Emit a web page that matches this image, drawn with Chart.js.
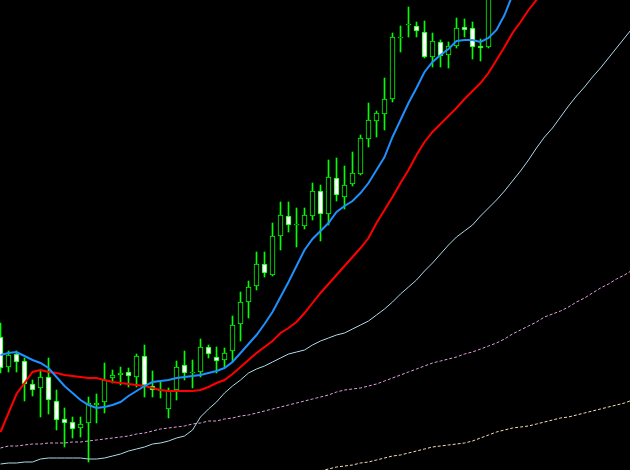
<!DOCTYPE html>
<html>
<head>
<meta charset="utf-8">
<script src="https://cdn.jsdelivr.net/npm/chart.js@4/dist/chart.umd.min.js"></script>
<style>
  html, body { margin: 0; padding: 0; background: #000; }
  #wrap { width: 630px; height: 470px; position: relative; }
</style>
</head>
<body>
<div id="wrap"><canvas id="priceChart"></canvas></div>
<script>
// candles, one per bar index
const opens = [113.3,110.3,111.6,110.9,108.6,108.2,109.3,106.9,105.1,104.8,
  104.2,104.7,106.5,106.8,109.2,109.5,109.8,109.3,111.4,108.4,
  107.9,106.1,108.0,110.5,109.7,109.8,112.3,111.3,111.0,111.9,
  114.6,116.8,118.4,120.6,119.5,123.4,125.4,124.5,124.4,125.4,
  127.9,125.6,129.2,127.3,128.6,129.6,133.1,134.9,135.6,137.1,
  143.2,144.5,144.4,143.8,141.3,142.8,141.5,142.4,144.3,144.2,
  142.4,142.3];
const highs = [114.7,111.9,111.9,111.2,109.0,110.0,111.2,108.0,106.2,105.3,
  105.3,107.3,107.6,110.7,110.0,110.3,110.2,111.6,112.5,109.9,
  108.8,108.2,110.9,111.9,111.0,113.1,112.5,112.3,112.2,115.4,
  117.8,118.9,121.8,121.8,124.7,126.8,126.8,126.2,126.2,128.7,
  128.5,131.0,131.2,130.4,131.8,133.5,136.7,135.9,139.2,143.7,
  144.4,146.3,144.8,144.9,143.7,143.0,142.8,145.2,145.1,144.8,
  143.1,149.6];
const lows = [109.7,109.8,109.8,106.9,107.4,105.3,105.6,104.0,102.3,103.2,
  103.3,100.8,104.7,105.7,108.7,108.5,108.3,108.3,107.3,107.3,
  107.2,105.2,107.0,109.0,108.2,109.3,111.2,109.7,110.3,110.8,
  112.9,115.2,118.0,119.3,119.4,122.0,123.8,122.3,124.1,125.0,
  122.9,124.5,126.9,126.1,128.4,129.5,132.3,133.3,134.0,136.8,
  141.8,143.3,143.3,141.2,140.3,140.3,140.2,142.2,143.3,141.1,
  140.9,142.2];
const closes = [110.2,111.5,110.8,108.6,108.0,109.3,107.0,105.0,104.7,104.1,
  104.6,106.7,106.7,109.0,109.5,109.7,109.4,111.4,108.5,108.0,
  108.0,108.0,110.3,109.7,109.8,112.3,111.6,110.9,111.7,114.5,
  116.8,118.3,120.6,119.7,123.4,125.5,124.5,124.6,125.5,127.9,
  125.6,129.3,127.5,128.5,129.7,133.2,135.0,135.7,137.1,143.3,
  143.3,144.6,143.9,141.3,142.9,141.4,142.4,144.2,144.0,142.3,
  142.2,149.0];

// moving averages (start at bar 0 unless noted)
const maFast = [111.5,111.7,111.8,111.4,111.0,110.7,110.2,109.3,108.4,107.7,
  107.0,106.5,106.2,106.3,106.5,106.8,107.4,107.9,108.4,108.8,
  108.9,109.0,109.2,109.3,109.4,109.5,109.7,109.9,110.2,110.8,
  111.7,112.6,113.5,114.6,115.8,117.3,118.8,120.4,122.0,123.1,
  123.9,124.7,125.8,126.4,126.9,127.7,128.7,130.0,131.3,133.3,
  135.0,136.7,138.2,139.8,140.8,141.5,142.1,142.9,143.0,143.0,
  142.8,143.2,144.0,145.5,147.5,149.3];
const maMid = [103.8,105.7,107.6,108.7,109.8,110.0,109.8,109.7,109.5,109.4,
  109.3,109.2,109.2,109.0,108.8,108.7,108.6,108.5,108.4,108.2,
  108.0,107.9,107.9,107.9,107.9,108.0,108.3,108.7,109.0,109.6,
  110.3,111.0,111.7,112.3,112.9,113.7,114.2,114.8,115.7,116.7,
  117.7,118.6,119.5,120.4,121.3,122.2,123.2,124.7,126.0,127.3,
  128.7,130.0,131.5,132.8,133.8,134.6,135.4,136.2,137.1,137.9,
  138.7,139.7,141.0,142.3,143.7,144.8,146.0,147.0,148.0];
const maSlow = [100.6,100.7,100.7,100.8,100.8,101.1,101.2,101.2,101.2,101.2,
  101.2,101.1,101.1,101.2,101.4,101.6,101.9,102.1,102.3,102.6,
  102.7,102.9,103.2,103.4,104.0,105.3,106.1,106.8,107.7,108.4,
  109.0,109.7,110.1,110.4,110.8,111.2,111.6,111.8,112.0,112.5,
  112.9,113.2,113.5,113.7,114.1,114.5,114.9,115.5,116.1,116.8,
  117.6,118.3,119.0,119.9,120.7,121.6,122.5,123.3,123.9,124.5,
  125.4,126.2,127.0,127.9,128.9,129.9,131.0,132.2,133.3,134.2,
  135.3,136.4,137.4,138.3,139.3,140.2,141.2,142.2,143.2,144.2];
const maLong = [102.2,102.4,102.4,102.5,102.6,102.6,102.7,102.7,102.7,102.8,
  102.8,102.9,103.0,103.1,103.2,103.3,103.4,103.6,103.7,103.9,
  104.1,104.2,104.3,104.4,104.6,104.7,104.9,104.9,105.1,105.2,
  105.4,105.5,105.7,105.9,106.1,106.3,106.5,106.7,106.9,107.1,
  107.3,107.5,107.8,108.0,108.1,108.2,108.4,108.6,108.9,109.2,
  109.5,109.8,110.1,110.4,110.7,110.9,111.1,111.3,111.6,111.8,
  112.1,112.4,112.7,113.1,113.6,114.0,114.4,114.8,115.3,115.6,
  115.9,116.3,116.8,117.2,117.7,118.2,118.6,119.1,119.5,120.0];
const maLongestStart = 40;
const maLongest = [99.9,100.1,100.3,100.4,100.5,100.7,100.8,101.0,101.2,101.4,
  101.5,101.7,101.9,102.1,102.3,102.4,102.5,102.6,102.7,102.9,
  103.2,103.5,103.8,104.0,104.2,104.3,104.4,104.6,104.8,105.0,
  105.2,105.3,105.5,105.7,105.9,106.1,106.3,106.5,106.7,107.0];

const green = '#00ff00';

const toPoints = (arr, start = 0) => arr.map((v, i) => ({ x: i + start, y: v }));

const wickData = highs.map((h, i) => ({ x: i, y: [lows[i], h] }));
const bodyData = opens.map((o, i) => ({ x: i, y: [o, closes[i]] }));
const bodyFill = opens.map((o, i) => closes[i] >= o ? '#000000' : '#ffffff');

function maLine(data, color, width, dash) {
  return {
    type: 'line',
    data: data,
    borderColor: color,
    borderWidth: width,
    borderDash: dash || [],
    pointRadius: 0,
    tension: 0,
    fill: false,
    order: 0
  };
}

const ctx = document.getElementById('priceChart').getContext('2d');
const priceChart = new Chart(ctx, {
  data: {
    datasets: [
      maLine(toPoints(maFast), '#1e90ff', 2),
      maLine(toPoints(maMid), '#ff0000', 2),
      maLine(toPoints(maSlow), '#add8e6', 1),
      maLine(toPoints(maLong), '#dda0dd', 1, [3, 2]),
      maLine(toPoints(maLongest, maLongestStart), '#f5deb3', 1, [3, 2]),
      {
        type: 'bar',
        data: bodyData,
        backgroundColor: bodyFill,
        borderColor: green,
        borderWidth: 1,
        borderSkipped: false,
        barThickness: 5,
        minBarLength: 1,
        grouped: false,
        order: 1
      },
      {
        type: 'bar',
        data: wickData,
        backgroundColor: green,
        borderWidth: 0,
        barThickness: 1,
        grouped: false,
        order: 2
      }
    ]
  },
  options: {
    responsive: true,
    maintainAspectRatio: false,
    animation: false,
    layout: { padding: 0 },
    plugins: {
      legend: { display: false },
      tooltip: { enabled: false }
    },
    scales: {
      x: {
        type: 'linear',
        offset: false,
        min: -0.0625,
        max: 78.6875,
        display: false
      },
      y: {
        min: 100,
        max: 147,
        display: false
      }
    }
  }
});
</script>
</body>
</html>
